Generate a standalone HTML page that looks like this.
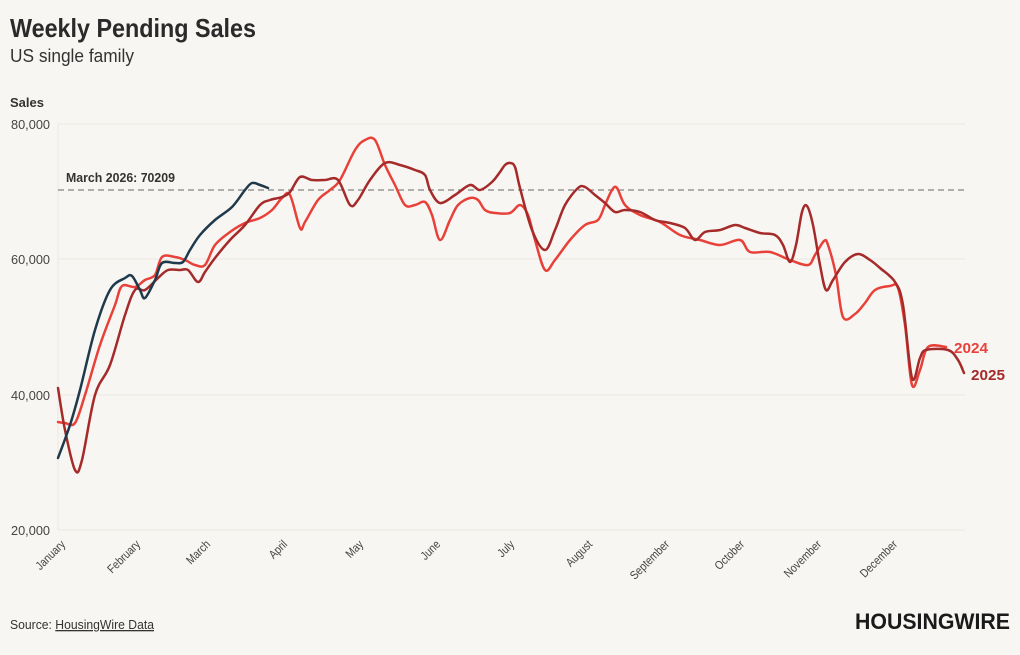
<!DOCTYPE html>
<html><head><meta charset="utf-8"><style>
html,body{margin:0;padding:0;background:#f8f6f2;}
body{width:1020px;height:650px;overflow:hidden;font-family:"Liberation Sans",sans-serif;}
svg text{font-family:"Liberation Sans",sans-serif;}
</style></head><body>
<svg id="s" width="1020" height="650" xmlns="http://www.w3.org/2000/svg">
<text x="10" y="37" font-size="26" font-weight="bold" fill="#2a2a2a" textLength="246" lengthAdjust="spacingAndGlyphs">Weekly Pending Sales</text>
<text x="10" y="62" font-size="18" fill="#333" textLength="124" lengthAdjust="spacingAndGlyphs">US single family</text>
<text x="10" y="107" font-size="13" font-weight="bold" fill="#333" textLength="34" lengthAdjust="spacingAndGlyphs">Sales</text>
<g stroke="#ebe8e3" stroke-width="1">
<line x1="58" y1="124" x2="965" y2="124"/><line x1="58" y1="259" x2="965" y2="259"/>
<line x1="58" y1="395" x2="965" y2="395"/><line x1="58" y1="530" x2="965" y2="530"/>
<line x1="58" y1="124" x2="58" y2="530"/>
</g>
<g font-size="13" fill="#444" text-anchor="end">
<text x="50" y="129" textLength="39" lengthAdjust="spacingAndGlyphs">80,000</text><text x="50" y="264" textLength="39" lengthAdjust="spacingAndGlyphs">60,000</text>
<text x="50" y="400" textLength="39" lengthAdjust="spacingAndGlyphs">40,000</text><text x="50" y="535" textLength="39" lengthAdjust="spacingAndGlyphs">20,000</text>
</g>
<line x1="58" y1="190" x2="965" y2="190" stroke="#666" stroke-dasharray="6,4" stroke-width="1"/>
<text x="66" y="182" font-size="13" font-weight="bold" fill="#333" textLength="109" lengthAdjust="spacingAndGlyphs">March 2026: 70209</text>
<g id="months" font-size="12" fill="#444" text-anchor="end"></g>
<g id="lines" fill="none" stroke-width="2.5" stroke-linejoin="round" stroke-linecap="round"></g>
<text x="954" y="353" font-size="15" font-weight="bold" fill="#e8413a" textLength="34" lengthAdjust="spacingAndGlyphs">2024</text>
<text x="971" y="380" font-size="15" font-weight="bold" fill="#a52a2a" textLength="34" lengthAdjust="spacingAndGlyphs">2025</text>
<text x="10" y="629" font-size="13" fill="#333" textLength="144" lengthAdjust="spacingAndGlyphs">Source: <tspan text-decoration="underline">HousingWire Data</tspan></text>
<text x="1010" y="629" font-size="22" font-weight="bold" fill="#1a1a1a" text-anchor="end" textLength="155" lengthAdjust="spacingAndGlyphs">HOUSINGWIRE</text>
</svg>
<script>
var m=["January","February","March","April","May","June","July","August","September","October","November","December"];
var tx=[66,141,211,288,364,441,515,593,670,745,822,898];
var g=document.getElementById("months"),h="";
for(var i=0;i<12;i++)h+='<text transform="translate('+tx[i]+',545) rotate(-45) scale(0.85,1)">'+m[i]+'</text>';
g.innerHTML=h;
function path(p){var d="M"+p[0][0]+","+p[0][1];for(var i=0;i<p.length-1;i++){var p0=p[i-1]||p[i],p1=p[i],p2=p[i+1],p3=p[i+2]||p2;
var c1x=p1[0]+(p2[0]-p0[0])/6,c1y=p1[1]+(p2[1]-p0[1])/6,c2x=p2[0]-(p3[0]-p1[0])/6,c2y=p2[1]-(p3[1]-p1[1])/6;
d+=" C"+c1x+","+c1y+" "+c2x+","+c2y+" "+p2[0]+","+p2[1];}return d;}
var s24=[[58,422],[65,423],[75,423],[85,395],[100,345],[115,305],[122,286],[135,287],[145,280],[155,275],[162,257],[175,257],[185,260],[195,265],[205,265],[215,245],[230,232],[245,223],[260,218],[272,210],[282,198],[290,195],[300,228],[305,222],[318,200],[330,190],[340,180],[355,150],[365,140],[375,140],[385,165],[395,185],[405,205],[415,205],[425,202],[432,215],[440,240],[450,220],[458,205],[470,198],[478,200],[485,210],[495,213],[510,213],[520,205],[528,215],[535,240],[545,270],[555,260],[570,240],[585,225],[598,220],[605,205],[612,190],[617,188],[625,205],[640,215],[660,222],[680,235],[700,240],[720,245],[740,240],[750,252],[770,252],[790,260],[808,265],[815,255],[824,241],[828,245],[836,275],[843,317],[855,314],[865,303],[875,290],[890,286],[898,288],[905,325],[912,385],[920,370],[928,347],[946,347]];
var s25=[[58,388],[65,430],[75,470],[82,460],[95,395],[110,365],[125,315],[135,290],[145,290],[158,278],[168,270],[180,270],[188,270],[198,282],[205,272],[215,258],[230,240],[245,225],[260,205],[270,200],[282,197],[290,192],[300,177],[312,180],[325,180],[338,180],[350,205],[358,200],[370,180],[385,163],[400,165],[415,170],[425,175],[430,190],[440,203],[455,195],[470,185],[480,190],[492,182],[500,172],[505,165],[510,163],[515,167],[520,188],[532,230],[545,250],[555,230],[565,205],[578,188],[585,187],[595,195],[605,203],[615,212],[625,210],[640,212],[655,220],[670,223],[685,228],[695,240],[705,232],[720,230],[735,225],[745,228],[760,233],[775,235],[783,245],[790,262],[796,245],[802,212],[807,206],[813,225],[820,265],[826,290],[833,280],[845,262],[858,254],[870,260],[880,268],[895,282],[903,305],[912,378],[920,358],[926,350],[948,350],[958,360],[964,373]];
var s26=[[58,458],[70,425],[80,390],[95,330],[110,290],[125,278],[132,276],[140,290],[145,298],[155,280],[162,263],[175,263],[183,262],[190,250],[200,235],[215,220],[232,207],[245,190],[252,183],[260,185],[268,188]];
document.getElementById("lines").innerHTML=
'<path d="'+path(s24)+'" stroke="#e8413a"/>'+
'<path d="'+path(s25)+'" stroke="#a52a2a"/>'+
'<path d="'+path(s26)+'" stroke="#1e3a4c"/>';
</script>
</body></html>
